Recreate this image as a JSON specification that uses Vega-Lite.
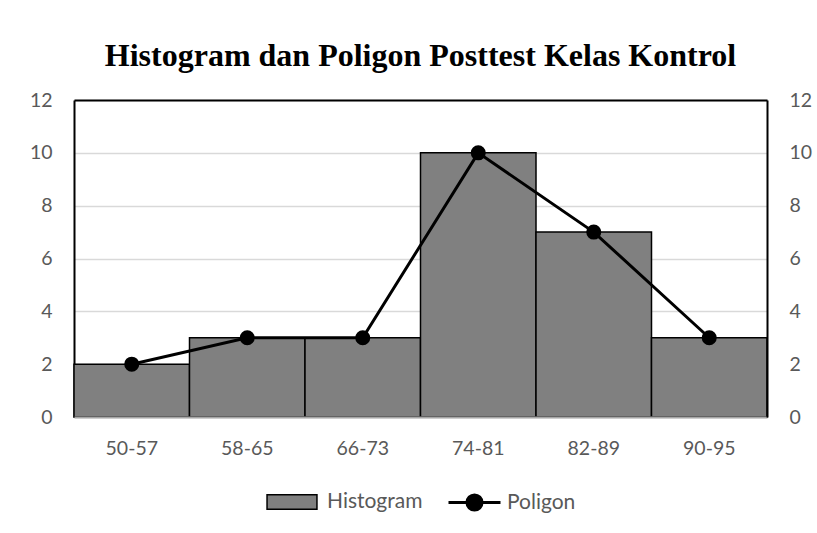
{
  "$schema": "https://vega.github.io/schema/vega-lite/v6.json",
  "width": 693,
  "height": 317,
  "autosize": {"type": "none"},
  "padding": {"left": 74, "top": 100, "right": 50, "bottom": 116},
  "background": "white",
  "title": {
    "text": "Histogram dan Poligon Posttest Kelas Kontrol",
    "font": "Liberation Serif",
    "fontSize": 32,
    "fontWeight": "bold",
    "color": "black",
    "anchor": "middle",
    "offset": 17
  },
  "config": {
    "view": {"stroke": null},
    "axis": {"labelFont": "Lato", "labelFontSize": 19.5, "labelColor": "#595959"},
    "legend": {
      "labelFont": "Lato", "labelFontSize": 21, "labelColor": "#595959",
      "layout": {"bottom": {"anchor": "middle", "direction": "horizontal", "margin": 24}}
    }
  },
  "data": {
    "values": [
      {"k": "50-57", "v": 2},
      {"k": "58-65", "v": 3},
      {"k": "66-73", "v": 3},
      {"k": "74-81", "v": 10},
      {"k": "82-89", "v": 7},
      {"k": "90-95", "v": 3}
    ]
  },
  "layer": [
    {
      "mark": {"type": "bar", "stroke": "black", "strokeWidth": 1.5},
      "encoding": {
        "x": {
          "field": "k", "type": "ordinal", "sort": null,
          "scale": {"paddingInner": 0, "paddingOuter": 0},
          "axis": {"orient": "bottom", "title": null, "labelAngle": 0, "domainColor": "#a6a6a6", "domainWidth": 2, "ticks": false, "labelPadding": 22, "zindex": 1, "grid": false}
        },
        "y": {
          "field": "v", "type": "quantitative",
          "scale": {"domain": [0, 12]},
          "axis": {"orient": "left", "title": null, "values": [0, 2, 4, 6, 8, 10, 12], "grid": true, "gridColor": "#d9d9d9", "gridWidth": 1.5, "domainColor": "black", "domainWidth": 2, "ticks": false, "labelPadding": 22}
        },
        "fill": {
          "datum": "Histogram",
          "scale": {"domain": ["Histogram"], "range": ["#808080"]},
          "legend": {"title": null, "orient": "bottom", "direction": "horizontal", "symbolType": "M-0.96,-0.28H0.96V0.28H-0.96Z", "symbolSize": 2704, "symbolStrokeColor": "black", "symbolStrokeWidth": 1.5, "symbolFillColor": "#808080", "labelOffset": 8, "offset": 17}
        }
      }
    },
    {
      "mark": {"type": "line", "color": "black", "strokeWidth": 3, "point": {"filled": true, "size": 170, "color": "black"}},
      "encoding": {
        "x": {
          "field": "k", "type": "ordinal", "sort": null,
          "axis": {"orient": "top", "title": null, "labels": false, "ticks": false, "domainColor": "black", "domainWidth": 2, "zindex": 1, "grid": false}
        },
        "y": {
          "field": "v", "type": "quantitative",
          "axis": {"orient": "right", "title": null, "values": [0, 2, 4, 6, 8, 10, 12], "grid": false, "domainColor": "black", "domainWidth": 2, "ticks": false, "labelPadding": 22, "zindex": 1}
        },
        "stroke": {
          "datum": "Poligon",
          "scale": {"domain": ["Poligon"], "range": ["black"]},
          "legend": {"title": null, "orient": "bottom", "direction": "horizontal", "symbolType": "M-1,0H1M0.29,0A0.29,0.29 0 1,1 -0.29,0A0.29,0.29 0 1,1 0.29,0Z", "symbolSize": 2704, "symbolStrokeColor": "black", "symbolStrokeWidth": 3, "symbolFillColor": "black", "labelOffset": 5, "offset": 17}
        }
      }
    }
  ],
  "resolve": {"axis": {"x": "independent", "y": "independent"}}
}
